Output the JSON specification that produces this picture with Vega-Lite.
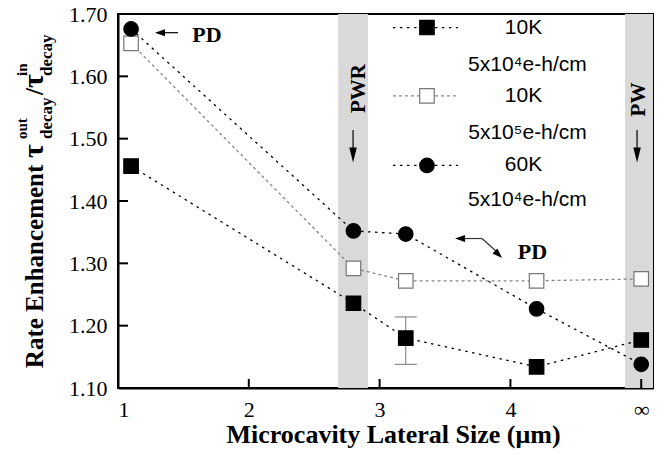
{
  "$schema": "https://vega.github.io/schema/vega-lite/v6.json",
  "width": 535,
  "height": 374,
  "autosize": {"type": "none"},
  "padding": {"left": 118, "top": 14, "right": 11, "bottom": 67},
  "background": "white",
  "data": {"values": [{}]},
  "config": {
    "view": {"stroke": "black", "strokeWidth": 2},
    "axis": {
      "grid": false,
      "zindex": 1,
      "ticks": false,
      "domainColor": "black",
      "domainWidth": 2,
      "labelColor": "black",
      "labelFont": "Liberation Serif",
      "labelFontSize": 22,
      "titleFont": "Liberation Serif",
      "titleFontWeight": "bold",
      "titleColor": "black",
      "titleFontSize": 26
    },
    "text": {"font": "Liberation Serif", "color": "black"}
  },
  "datasets": {
    "points": [
      {"series": "10K, 5x10⁴ e-h/cm", "x": 1.1, "y": 1.456},
      {"series": "10K, 5x10⁴ e-h/cm", "x": 2.8, "y": 1.236},
      {"series": "10K, 5x10⁴ e-h/cm", "x": 3.2, "y": 1.18},
      {"series": "10K, 5x10⁴ e-h/cm", "x": 4.2, "y": 1.134},
      {"series": "10K, 5x10⁴ e-h/cm", "x": 5.0, "y": 1.177},
      {"series": "10K, 5x10⁵ e-h/cm", "x": 1.1, "y": 1.653},
      {"series": "10K, 5x10⁵ e-h/cm", "x": 2.8, "y": 1.292},
      {"series": "10K, 5x10⁵ e-h/cm", "x": 3.2, "y": 1.272},
      {"series": "10K, 5x10⁵ e-h/cm", "x": 4.2, "y": 1.272},
      {"series": "10K, 5x10⁵ e-h/cm", "x": 5.0, "y": 1.275},
      {"series": "60K, 5x10⁴ e-h/cm", "x": 1.1, "y": 1.676},
      {"series": "60K, 5x10⁴ e-h/cm", "x": 2.8, "y": 1.352},
      {"series": "60K, 5x10⁴ e-h/cm", "x": 3.2, "y": 1.347},
      {"series": "60K, 5x10⁴ e-h/cm", "x": 4.2, "y": 1.227},
      {"series": "60K, 5x10⁴ e-h/cm", "x": 5.0, "y": 1.138}
    ],
    "errors": [{"series": "10K, 5x10⁴ e-h/cm", "x": 3.2, "lo": 1.138, "hi": 1.214}],
    "bands": [
      {"label": "PWR", "from": 2.683, "to": 2.911},
      {"label": "PW", "from": 4.876, "to": 5.09}
    ],
    "xticks": [{"v": 2}, {"v": 3}, {"v": 4}, {"v": 5}],
    "yticks": [{"v": 1.2}, {"v": 1.3}, {"v": 1.4}, {"v": 1.5}, {"v": 1.6}]
  },
  "layer": [
    {
      "data": {"name": "bands"},
      "mark": {"type": "rect", "color": "#d9d9d9"},
      "encoding": {
        "x": {
          "field": "from", "type": "quantitative",
          "scale": {"domain": [1, 5.09], "nice": false, "zero": false},
          "axis": {
            "values": [1, 2, 3, 4, 5],
            "format": "d",
            "labelExpr": "datum.value == 5 ? '∞' : datum.label",
            "labelPadding": 11,
            "title": "Microcavity Lateral Size (μm)",
            "titleX": 275,
            "titlePadding": 1
          }
        },
        "x2": {"field": "to"},
        "y": {
          "datum": 1.1, "type": "quantitative",
          "scale": {"domain": [1.1, 1.7], "nice": false, "zero": false},
          "axis": {
            "values": [1.1, 1.2, 1.3, 1.4, 1.5, 1.6, 1.7],
            "format": ".2f",
            "labelPadding": 11,
            "title": null
          }
        },
        "y2": {"datum": 1.7}
      }
    },
    {
      "data": {"name": "xticks"},
      "mark": {"type": "rule", "color": "black", "strokeWidth": 2},
      "encoding": {
        "x": {"field": "v", "type": "quantitative"},
        "y": {"datum": 1.1, "type": "quantitative"},
        "y2": {"datum": 1.1144}
      }
    },
    {
      "data": {"name": "yticks"},
      "mark": {"type": "rule", "color": "black", "strokeWidth": 2},
      "encoding": {
        "y": {"field": "v", "type": "quantitative"},
        "x": {"datum": 1, "type": "quantitative"},
        "x2": {"datum": 1.0765}
      }
    },
    {
      "data": {"name": "points"},
      "mark": {"type": "line", "strokeWidth": 1.3},
      "encoding": {
        "x": {"field": "x", "type": "quantitative"},
        "y": {"field": "y", "type": "quantitative"},
        "detail": {"field": "series"},
        "color": {
          "field": "series", "type": "nominal",
          "scale": {"domain": ["10K, 5x10⁴ e-h/cm", "10K, 5x10⁵ e-h/cm", "60K, 5x10⁴ e-h/cm"], "range": ["black", "#888888", "black"]},
          "legend": null
        },
        "strokeDash": {
          "field": "series", "type": "nominal",
          "scale": {"domain": ["10K, 5x10⁴ e-h/cm", "10K, 5x10⁵ e-h/cm", "60K, 5x10⁴ e-h/cm"], "range": [[2.5, 4.5], [3, 3], [2.5, 4.5]]},
          "legend": null
        }
      }
    },
    {
      "data": {"name": "errors"},
      "mark": {"type": "rule", "color": "#777777", "strokeWidth": 1},
      "encoding": {
        "x": {"field": "x", "type": "quantitative"},
        "y": {"field": "lo", "type": "quantitative"},
        "y2": {"field": "hi"}
      }
    },
    {
      "data": {"name": "errors"},
      "mark": {"type": "tick", "orient": "horizontal", "size": 22, "thickness": 1, "color": "#777777", "opacity": 1},
      "encoding": {
        "x": {"field": "x", "type": "quantitative"},
        "y": {"field": "lo", "type": "quantitative"}
      }
    },
    {
      "data": {"name": "errors"},
      "mark": {"type": "tick", "orient": "horizontal", "size": 22, "thickness": 1, "color": "#777777", "opacity": 1},
      "encoding": {
        "x": {"field": "x", "type": "quantitative"},
        "y": {"field": "hi", "type": "quantitative"}
      }
    },
    {
      "data": {"name": "points"},
      "mark": {"type": "point", "size": 210, "strokeWidth": 1.2, "opacity": 1},
      "encoding": {
        "x": {"field": "x", "type": "quantitative"},
        "y": {"field": "y", "type": "quantitative"},
        "shape": {
          "field": "series", "type": "nominal",
          "scale": {"domain": ["10K, 5x10⁴ e-h/cm", "10K, 5x10⁵ e-h/cm", "60K, 5x10⁴ e-h/cm"], "range": ["square", "square", "circle"]},
          "legend": null
        },
        "fill": {
          "field": "series", "type": "nominal",
          "scale": {"domain": ["10K, 5x10⁴ e-h/cm", "10K, 5x10⁵ e-h/cm", "60K, 5x10⁴ e-h/cm"], "range": ["black", "white", "black"]},
          "legend": null
        },
        "stroke": {
          "field": "series", "type": "nominal",
          "scale": {"domain": ["10K, 5x10⁴ e-h/cm", "10K, 5x10⁵ e-h/cm", "60K, 5x10⁴ e-h/cm"], "range": ["black", "#777777", "black"]},
          "legend": null
        }
      }
    },
    {
      "mark": {"type": "rule", "color": "black", "strokeWidth": 1.2, "strokeDash": [2.5, 4.5]},
      "encoding": {
        "x": {"datum": 3.102, "type": "quantitative"},
        "x2": {"datum": 3.599},
        "y": {"datum": 1.6783, "type": "quantitative"}
      }
    },
    {
      "mark": {"type": "rule", "color": "#888888", "strokeWidth": 1.2, "strokeDash": [3, 3]},
      "encoding": {
        "x": {"datum": 3.102, "type": "quantitative"},
        "x2": {"datum": 3.599},
        "y": {"datum": 1.5685, "type": "quantitative"}
      }
    },
    {
      "mark": {"type": "rule", "color": "black", "strokeWidth": 1.2, "strokeDash": [2.5, 4.5]},
      "encoding": {
        "x": {"datum": 3.102, "type": "quantitative"},
        "x2": {"datum": 3.599},
        "y": {"datum": 1.457, "type": "quantitative"}
      }
    },
    {
      "mark": {"type": "point", "shape": "square", "size": 210, "fill": "black", "stroke": "black", "strokeWidth": 1.2, "opacity": 1},
      "encoding": {
        "x": {"datum": 3.362, "type": "quantitative"},
        "y": {"datum": 1.6783, "type": "quantitative"}
      }
    },
    {
      "mark": {"type": "point", "shape": "square", "size": 210, "fill": "white", "stroke": "#777777", "strokeWidth": 1.2, "opacity": 1},
      "encoding": {
        "x": {"datum": 3.362, "type": "quantitative"},
        "y": {"datum": 1.5685, "type": "quantitative"}
      }
    },
    {
      "mark": {"type": "point", "shape": "circle", "size": 210, "fill": "black", "stroke": "black", "strokeWidth": 1.2, "opacity": 1},
      "encoding": {
        "x": {"datum": 3.362, "type": "quantitative"},
        "y": {"datum": 1.457, "type": "quantitative"}
      }
    },
    {
      "mark": {"type": "text", "text": "10K", "font": "Liberation Sans", "fontSize": 21, "align": "center", "baseline": "middle"},
      "encoding": {
        "x": {"datum": 4.1, "type": "quantitative"},
        "y": {"datum": 1.6783, "type": "quantitative"}
      }
    },
    {
      "mark": {"type": "text", "text": "5x10⁴e-h/cm", "font": "Liberation Sans", "fontSize": 21, "align": "center", "baseline": "middle"},
      "encoding": {
        "x": {"datum": 4.13, "type": "quantitative"},
        "y": {"datum": 1.6182, "type": "quantitative"}
      }
    },
    {
      "mark": {"type": "text", "text": "10K", "font": "Liberation Sans", "fontSize": 21, "align": "center", "baseline": "middle"},
      "encoding": {
        "x": {"datum": 4.1, "type": "quantitative"},
        "y": {"datum": 1.5685, "type": "quantitative"}
      }
    },
    {
      "mark": {"type": "text", "text": "5x10⁵e-h/cm", "font": "Liberation Sans", "fontSize": 21, "align": "center", "baseline": "middle"},
      "encoding": {
        "x": {"datum": 4.13, "type": "quantitative"},
        "y": {"datum": 1.5091, "type": "quantitative"}
      }
    },
    {
      "mark": {"type": "text", "text": "60K", "font": "Liberation Sans", "fontSize": 21, "align": "center", "baseline": "middle"},
      "encoding": {
        "x": {"datum": 4.1, "type": "quantitative"},
        "y": {"datum": 1.457, "type": "quantitative"}
      }
    },
    {
      "mark": {"type": "text", "text": "5x10⁴e-h/cm", "font": "Liberation Sans", "fontSize": 21, "align": "center", "baseline": "middle"},
      "encoding": {
        "x": {"datum": 4.13, "type": "quantitative"},
        "y": {"datum": 1.4016, "type": "quantitative"}
      }
    },
    {
      "mark": {"type": "text", "text": "PD", "fontSize": 22, "fontWeight": "bold", "align": "center", "baseline": "alphabetic"},
      "encoding": {
        "x": {"datum": 1.68, "type": "quantitative"},
        "y": {"datum": 1.655, "type": "quantitative"}
      }
    },
    {
      "mark": {"type": "rule", "color": "black", "strokeWidth": 1.2},
      "encoding": {
        "x": {"datum": 1.344, "type": "quantitative"},
        "x2": {"datum": 1.459},
        "y": {"datum": 1.67, "type": "quantitative"}
      }
    },
    {
      "mark": {"type": "point", "shape": "M1,-0.7L1,0.7L-1,0Z", "size": 100, "fill": "black", "strokeWidth": 0, "opacity": 1},
      "encoding": {
        "x": {"datum": 1.321, "type": "quantitative"},
        "y": {"datum": 1.67, "type": "quantitative"}
      }
    },
    {
      "mark": {"type": "text", "text": "PD", "fontSize": 22, "fontWeight": "bold", "align": "center", "baseline": "alphabetic"},
      "encoding": {
        "x": {"datum": 4.169, "type": "quantitative"},
        "y": {"datum": 1.307, "type": "quantitative"}
      }
    },
    {
      "mark": {"type": "rule", "color": "#333333", "strokeWidth": 1.2},
      "encoding": {
        "x": {"datum": 3.638, "type": "quantitative"},
        "x2": {"datum": 3.783},
        "y": {"datum": 1.3398, "type": "quantitative"}
      }
    },
    {
      "mark": {"type": "rule", "color": "#333333", "strokeWidth": 1.2},
      "encoding": {
        "x": {"datum": 3.783, "type": "quantitative"},
        "x2": {"datum": 3.898},
        "y": {"datum": 1.3398, "type": "quantitative"},
        "y2": {"datum": 1.3182}
      }
    },
    {
      "mark": {"type": "point", "shape": "M1,-0.7L1,0.7L-1,0Z", "size": 100, "fill": "black", "strokeWidth": 0, "opacity": 1},
      "encoding": {
        "x": {"datum": 3.615, "type": "quantitative"},
        "y": {"datum": 1.3398, "type": "quantitative"}
      }
    },
    {
      "mark": {"type": "point", "shape": "M-1,-0.7L-1,0.7L1,0Z", "size": 100, "angle": 44, "fill": "black", "strokeWidth": 0, "opacity": 1},
      "encoding": {
        "x": {"datum": 3.909, "type": "quantitative"},
        "y": {"datum": 1.3142, "type": "quantitative"}
      }
    },
    {
      "mark": {"type": "text", "text": "PWR", "fontSize": 21, "fontWeight": "bold", "angle": 270, "align": "center", "baseline": "alphabetic"},
      "encoding": {
        "x": {"datum": 2.888, "type": "quantitative"},
        "y": {"datum": 1.5805, "type": "quantitative"}
      }
    },
    {
      "mark": {"type": "text", "text": "PW", "fontSize": 21, "fontWeight": "bold", "angle": 270, "align": "center", "baseline": "alphabetic"},
      "encoding": {
        "x": {"datum": 5.029, "type": "quantitative"},
        "y": {"datum": 1.5628, "type": "quantitative"}
      }
    },
    {
      "mark": {"type": "rule", "color": "black", "strokeWidth": 1.2},
      "encoding": {
        "x": {"datum": 2.797, "type": "quantitative"},
        "y": {"datum": 1.5139, "type": "quantitative"},
        "y2": {"datum": 1.4818}
      }
    },
    {
      "mark": {"type": "point", "shape": "M-0.5,-1L0.5,-1L0,1Z", "size": 225, "fill": "black", "strokeWidth": 0, "opacity": 1},
      "encoding": {
        "x": {"datum": 2.797, "type": "quantitative"},
        "y": {"datum": 1.4738, "type": "quantitative"}
      }
    },
    {
      "mark": {"type": "rule", "color": "black", "strokeWidth": 1.2},
      "encoding": {
        "x": {"datum": 4.968, "type": "quantitative"},
        "y": {"datum": 1.5139, "type": "quantitative"},
        "y2": {"datum": 1.4818}
      }
    },
    {
      "mark": {"type": "point", "shape": "M-0.5,-1L0.5,-1L0,1Z", "size": 225, "fill": "black", "strokeWidth": 0, "opacity": 1},
      "encoding": {
        "x": {"datum": 4.968, "type": "quantitative"},
        "y": {"datum": 1.4738, "type": "quantitative"}
      }
    },
    {
      "mark": {"type": "text", "text": "Rate Enhancement", "fontSize": 25, "fontWeight": "bold", "angle": 270, "align": "left", "baseline": "alphabetic"},
      "encoding": {
        "x": {"datum": 0.4266, "type": "quantitative"},
        "y": {"datum": 1.1318, "type": "quantitative"}
      }
    },
    {
      "mark": {"type": "text", "text": "τ", "fontSize": 30, "fontWeight": "bold", "angle": 270, "align": "left", "baseline": "alphabetic"},
      "encoding": {
        "x": {"datum": 0.4266, "type": "quantitative"},
        "y": {"datum": 1.469, "type": "quantitative"}
      }
    },
    {
      "mark": {"type": "text", "text": "out", "fontSize": 15, "fontWeight": "bold", "angle": 270, "align": "left", "baseline": "alphabetic"},
      "encoding": {
        "x": {"datum": 0.3043, "type": "quantitative"},
        "y": {"datum": 1.4995, "type": "quantitative"}
      }
    },
    {
      "mark": {"type": "text", "text": "decay", "fontSize": 17, "fontWeight": "bold", "angle": 270, "align": "left", "baseline": "alphabetic"},
      "encoding": {
        "x": {"datum": 0.4954, "type": "quantitative"},
        "y": {"datum": 1.4995, "type": "quantitative"}
      }
    },
    {
      "mark": {"type": "text", "text": "/", "fontSize": 25, "fontWeight": "bold", "angle": 270, "align": "left", "baseline": "alphabetic"},
      "encoding": {
        "x": {"datum": 0.4266, "type": "quantitative"},
        "y": {"datum": 1.5701, "type": "quantitative"}
      }
    },
    {
      "mark": {"type": "text", "text": "τ", "fontSize": 30, "fontWeight": "bold", "angle": 270, "align": "left", "baseline": "alphabetic"},
      "encoding": {
        "x": {"datum": 0.4266, "type": "quantitative"},
        "y": {"datum": 1.5813, "type": "quantitative"}
      }
    },
    {
      "mark": {"type": "text", "text": "in", "fontSize": 15, "fontWeight": "bold", "angle": 270, "align": "left", "baseline": "alphabetic"},
      "encoding": {
        "x": {"datum": 0.3043, "type": "quantitative"},
        "y": {"datum": 1.6005, "type": "quantitative"}
      }
    },
    {
      "mark": {"type": "text", "text": "decay", "fontSize": 17, "fontWeight": "bold", "angle": 270, "align": "left", "baseline": "alphabetic"},
      "encoding": {
        "x": {"datum": 0.4954, "type": "quantitative"},
        "y": {"datum": 1.6005, "type": "quantitative"}
      }
    }
  ]
}
